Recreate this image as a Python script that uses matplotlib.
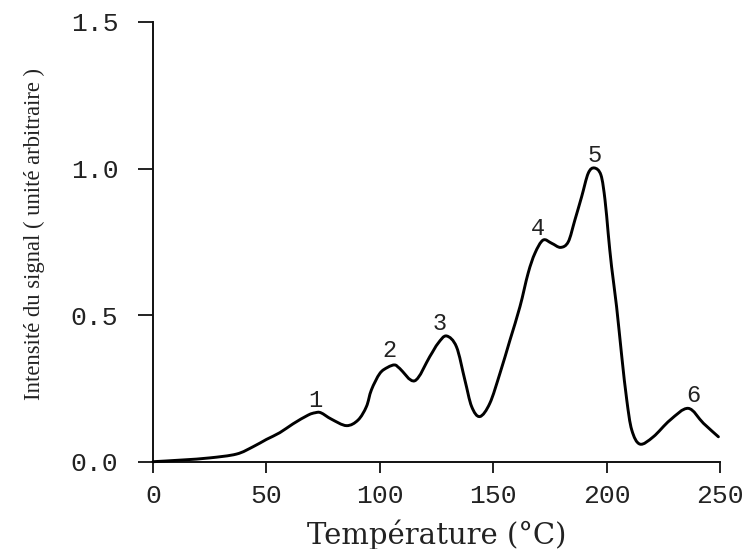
import matplotlib
matplotlib.use("Agg")
import matplotlib.pyplot as plt
from matplotlib.path import Path
from matplotlib.patches import PathPatch
import numpy as np

# Data
temperature = [0, 13.2, 25, 36.8, 44.1, 50, 55.9, 61.7, 68.4, 71.5, 74, 78.7, 85.3,
               90.4, 94.1, 96.3, 100, 103.5, 106.6, 108.8, 115.4, 122, 125.7, 129.4,
               133.8, 137.5, 140.5, 144.1, 148.5, 153, 157.4, 161.8, 165.4, 168.4,
               172, 175.8, 179.7, 183.1, 186, 189, 191.9, 194.6, 197.5, 199.3, 200.7,
               202.2, 204.4, 206.7, 208.9, 211.1, 214.7, 220.6, 228, 236, 242.7, 249.3]
intensity = [0, 0.006, 0.013, 0.026, 0.051, 0.076, 0.099, 0.129, 0.159, 0.167, 0.167,
             0.145, 0.123, 0.142, 0.188, 0.245, 0.301, 0.322, 0.330, 0.318, 0.276,
             0.358, 0.404, 0.429, 0.392, 0.279, 0.188, 0.154, 0.199, 0.302, 0.415,
             0.529, 0.643, 0.711, 0.756, 0.745, 0.731, 0.750, 0.824, 0.904, 0.984,
             1.002, 0.978, 0.893, 0.779, 0.665, 0.529, 0.358, 0.210, 0.108, 0.060,
             0.085, 0.142, 0.182, 0.131, 0.085]

peak_labels = ["1", "2", "3", "4", "5", "6"]
peak_x = [71.4, 104.4, 126.5, 169.9, 194.9, 238.3]
peak_y = [0.21, 0.381, 0.472, 0.796, 1.046, 0.227]

x_ticks = [0, 50, 100, 150, 200, 250]
y_ticks = [0.0, 0.5, 1.0, 1.5]
y_ticklabels = ["0.0", "0.5", "1.0", "1.5"]

fig = plt.figure(figsize=(7.5, 5.49), dpi=100)
ax = fig.add_axes([0.204, 0.159, 0.756, 0.801])

# Smooth rendering of the read points: a Catmull-Rom curve drawn as cubic Bezier
# segments through every data point (the data themselves are unchanged).
pts = np.column_stack([temperature, intensity])
ext = np.vstack([pts[0], pts, pts[-1]])
verts = [tuple(pts[0])]
codes = [Path.MOVETO]
for i in range(1, len(ext) - 2):
    p0, p1, p2, p3 = ext[i - 1], ext[i], ext[i + 1], ext[i + 2]
    c1 = p1 + (p2 - p0) / 6.0
    c2 = p2 - (p3 - p1) / 6.0
    verts += [tuple(c1), tuple(c2), tuple(p2)]
    codes += [Path.CURVE4, Path.CURVE4, Path.CURVE4]
curve = PathPatch(Path(verts, codes), transform=ax.transData, fill=False,
                  edgecolor="black", lw=2.1, clip_on=False, zorder=3,
                  capstyle="round", joinstyle="round")
ax.add_patch(curve)

for lab, px, py in zip(peak_labels, peak_x, peak_y):
    ax.text(px, py, lab, ha="center", va="center", fontsize=17,
            family="Liberation Mono", color="#222222")

ax.set_xlim(0, 250)
ax.set_ylim(0, 1.5)
ax.set_xticks(x_ticks)
ax.set_yticks(y_ticks)
ax.set_yticklabels(y_ticklabels)

for s in ["top", "right"]:
    ax.spines[s].set_visible(False)
for s in ["left", "bottom"]:
    ax.spines[s].set_linewidth(1.4)
    ax.spines[s].set_color("#111111")

ax.tick_params(axis="y", direction="out", length=11, width=1.4, pad=14,
               labelsize=19, colors="#222222")
ax.tick_params(axis="x", direction="out", length=8, width=1.4, pad=8,
               labelsize=19, colors="#222222")
for lab in ax.get_xticklabels() + ax.get_yticklabels():
    lab.set_family("Liberation Mono")

ax.set_xlabel("Température (°C)", family="DejaVu Serif", fontsize=21,
              color="#222222", labelpad=8)
ax.set_ylabel("Intensité du signal ( unité arbitraire )", family="Liberation Serif",
              fontsize=16.3, color="#222222")
ax.yaxis.set_label_coords(-0.19, 0.518)

fig.savefig("out.png", dpi=100, facecolor="white")
